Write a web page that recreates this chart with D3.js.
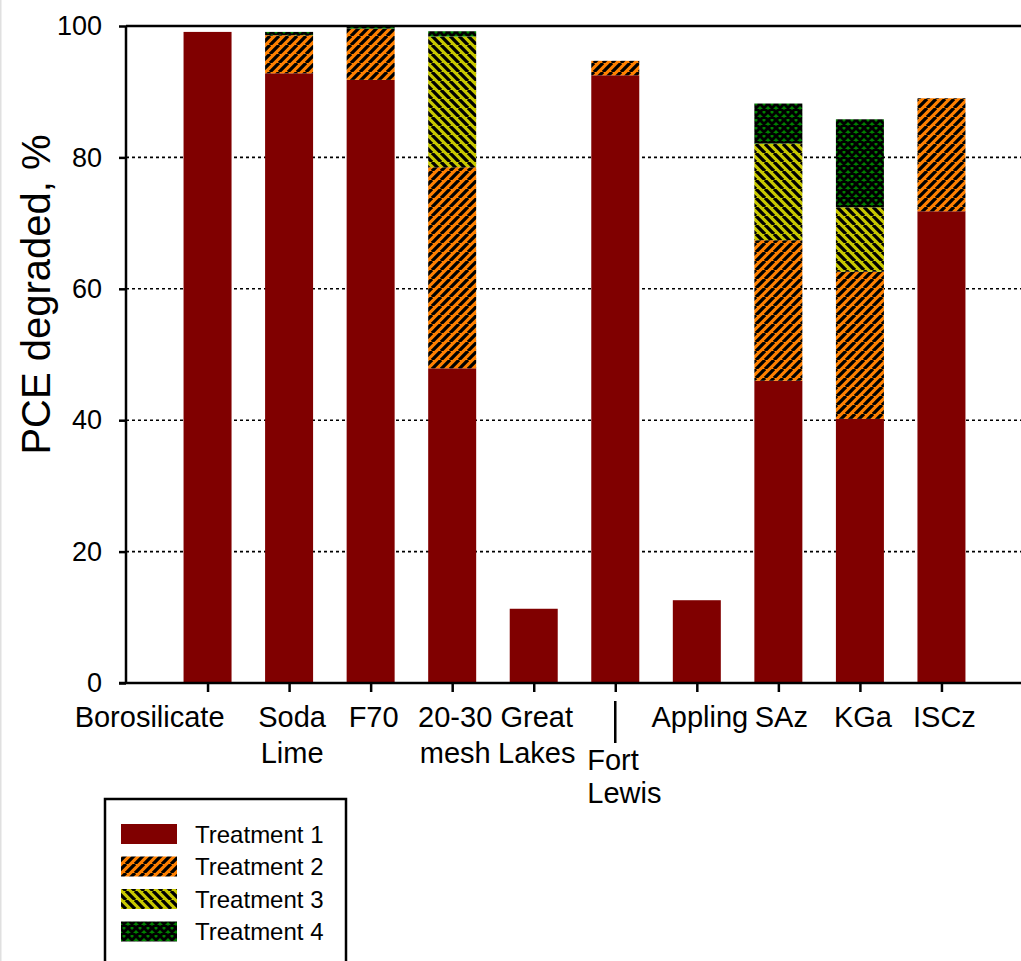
<!DOCTYPE html>
<html>
<head>
<meta charset="utf-8">
<script src="https://cdn.jsdelivr.net/npm/d3@7"></script>
<style>
  html, body { margin: 0; padding: 0; background: #fff; }
  svg { display: block; }
  text { font-family: "Liberation Sans", Arial, sans-serif; fill: #000; }
</style>
</head>
<body>
<svg id="chart" width="1021" height="961"></svg>
<script>
// Sample materials along the x axis
const categories = ["Borosilicate", "Soda Lime", "F70", "20-30 mesh", "Great Lakes",
                    "Fort Lewis", "Appling", "SAz", "KGa", "ISCz"];
// Axis labels, split into their printed lines
const labelLines = [["Borosilicate"], ["Soda", "Lime"], ["F70"], ["20-30", "mesh"], ["Great", "Lakes"],
                    ["Fort", "Lewis"], ["Appling"], ["SAz"], ["KGa"], ["ISCz"]];
// PCE degraded (%) contributed by each successive treatment
const treatment1 = [99.1, 92.8, 91.8, 47.9, 11.3, 92.5, 12.6, 46.0, 40.2, 71.8];
const treatment2 = [0, 5.8, 7.8, 30.6, 0, 2.2, 0, 21.4, 22.4, 17.2];
const treatment3 = [0, 0, 0, 19.9, 0, 0, 0, 14.7, 9.8, 0];
const treatment4 = [0, 0.5, 0.3, 0.8, 0, 0, 0, 6.1, 13.4, 0];
const seriesNames = ["Treatment 1", "Treatment 2", "Treatment 3", "Treatment 4"];
const yTicks = [0, 20, 40, 60, 80, 100];

const svg = d3.select("#chart");
const plotLeft = 126, plotRight = 1023, plotTop = 26, plotBottom = 683;

const x = d3.scalePoint().domain(categories).range([plotLeft, plotRight]).padding(1);
const y = d3.scaleLinear().domain([0, 100]).range([plotBottom, plotTop]);
const barW = 48;

// Fills: solid, "/" hatch, "\" hatch, crosshatch
const defs = svg.append("defs");
function hatch(id, bg, size, dirs, sw) {
  const p = defs.append("pattern").attr("id", id)
    .attr("patternUnits", "userSpaceOnUse").attr("width", size).attr("height", size);
  p.append("rect").attr("width", size).attr("height", size).attr("fill", bg);
  let d = "";
  for (let k = -1; k <= 1; k++) {
    if (dirs.includes("fwd")) d += `M${k * size},${size}L${k * size + size},0`;
    if (dirs.includes("back")) d += `M${k * size},0L${k * size + size},${size}`;
  }
  p.append("path").attr("d", d).attr("stroke", "#000").attr("stroke-width", sw).attr("fill", "none");
}
hatch("fill2", "#ff8000", 9, ["fwd"], 3.3);
hatch("fill3", "#c8c800", 9, ["back"], 3.3);
hatch("fill4", "#008000", 8, ["fwd", "back"], 2.9);
const fills = ["#800000", "url(#fill2)", "url(#fill3)", "url(#fill4)"];

// faint image edge on the left
svg.append("line").attr("x1", 0.5).attr("x2", 0.5).attr("y1", 0).attr("y2", 961)
  .attr("stroke", "#e0e0e0").attr("stroke-width", 2);

// dotted gridlines
svg.append("g").selectAll("line").data(yTicks.filter(v => v > 0 && v < 100)).join("line")
  .attr("x1", plotLeft).attr("x2", 1021).attr("y1", d => y(d)).attr("y2", d => y(d))
  .attr("stroke", "#000").attr("stroke-width", 1.6).attr("stroke-dasharray", "3,3");

// stacked bars
const rows = categories.map((c, i) => ({
  cat: c, "Treatment 1": treatment1[i], "Treatment 2": treatment2[i],
  "Treatment 3": treatment3[i], "Treatment 4": treatment4[i]
}));
const stacked = d3.stack().keys(seriesNames)(rows);
svg.append("g").selectAll("g").data(stacked).join("g")
  .attr("fill", (d, i) => fills[i])
  .selectAll("rect").data(d => d.filter(s => s[1] - s[0] > 0)).join("rect")
  .attr("x", d => x(d.data.cat) - barW / 2)
  .attr("width", barW)
  .attr("y", d => y(d[1]))
  .attr("height", d => y(d[0]) - y(d[1]));

// top frame line
svg.append("line").attr("x1", plotLeft).attr("x2", 1021).attr("y1", y(100)).attr("y2", y(100))
  .attr("stroke", "#000").attr("stroke-width", 2.5);

// y axis
const yAxis = svg.append("g").attr("transform", `translate(${plotLeft},0)`)
  .call(d3.axisLeft(y).tickValues(yTicks).tickSize(7).tickPadding(17));
yAxis.select(".domain").attr("stroke-width", 2.5).attr("d", `M0,${plotTop}V${plotBottom}`);
yAxis.selectAll(".tick line").attr("stroke-width", 2.5);
yAxis.selectAll(".tick text").style("font-size", "27px").attr("font-family", null);

// x axis
const xAxis = svg.append("g").attr("transform", `translate(0,${plotBottom})`)
  .call(d3.axisBottom(x).tickSize(9).tickFormat(""));
xAxis.select(".domain").attr("stroke-width", 2.5).attr("d", `M${plotLeft - 7},0H1021`);
xAxis.selectAll(".tick line").attr("stroke-width", 2.5);

// x labels
const lab = svg.append("g").style("font-size", "29px");
categories.forEach((c, i) => {
  const cx = x(c);
  let anchor = "middle", tx = cx + 3, y0 = 727, pitch = 36;
  if (c === "Borosilicate") { anchor = "end"; tx = cx + 17; }
  if (c === "Fort Lewis") {
    anchor = "start"; tx = cx - 28; y0 = 770; pitch = 33;
    svg.append("line").attr("x1", cx).attr("x2", cx).attr("y1", 701).attr("y2", 743)
      .attr("stroke", "#000").attr("stroke-width", 2.5);
  }
  const t = lab.append("text").attr("text-anchor", anchor);
  labelLines[i].forEach((ln, j) => {
    t.append("tspan").attr("x", tx).attr("y", y0 + j * pitch).text(ln);
  });
});

// y title
svg.append("text")
  .attr("transform", `translate(50,${(132 + 457) / 2}) rotate(-90)`)
  .attr("text-anchor", "middle")
  .style("font-size", "40px")
  .text("PCE degraded, %");

// legend
const lg = svg.append("g");
lg.append("rect").attr("x", 105).attr("y", 799).attr("width", 241).attr("height", 175)
  .attr("fill", "#fff").attr("stroke", "#000").attr("stroke-width", 2.5);
seriesNames.forEach((name, i) => {
  const cy = 834 + i * 32.5;
  lg.append("rect").attr("x", 121).attr("y", cy - 10).attr("width", 56).attr("height", 20)
    .attr("fill", fills[i]);
  lg.append("text").attr("x", 195).attr("y", cy + 8.5).style("font-size", "24px").text(name);
});
</script>
</body>
</html>
